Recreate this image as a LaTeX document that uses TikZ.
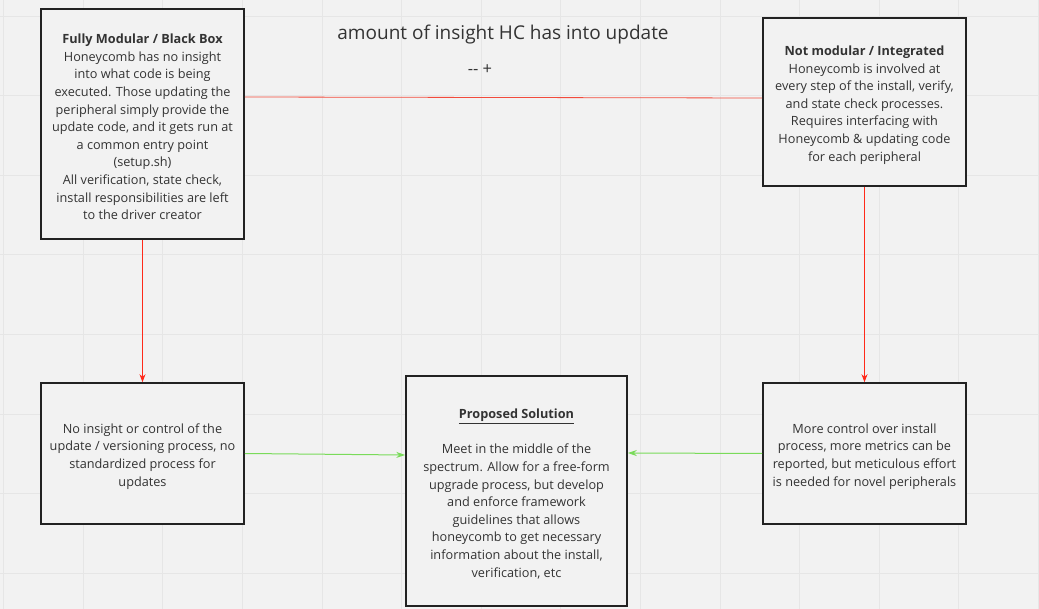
\documentclass[tikz,border=0pt]{standalone}
\usepackage{fontspec}
\setmainfont{Open Sans}
\usetikzlibrary{arrows.meta}
\definecolor{boardbg}{HTML}{F2F2F2}
\definecolor{gridline}{HTML}{E6E6E6}
\definecolor{inktext}{HTML}{333333}
\definecolor{boxline}{HTML}{222222}
\definecolor{linkred}{HTML}{F24B3C}
\definecolor{arrowred}{HTML}{FF2A1A}
\definecolor{linkgreen}{HTML}{7ADB5A}
\newcommand{\cardtop}{\rule{0pt}{15.5pt}}
\tikzset{
  card/.style={draw=boxline, line width=1.6pt, fill=boardbg, align=center,
    text=inktext, font=\fontsize{12.7}{17.6}\selectfont, inner sep=0pt},
  redarrow/.style={draw=arrowred, line width=0.8pt, -{Stealth[length=8pt,width=6pt]}},
  greenarrow/.style={draw=linkgreen, line width=1pt, -{Stealth[length=9pt,width=6pt]}}
}
\begin{document}
\begin{tikzpicture}[x=1pt, y=-1pt]
  % Tafel und Raster
  \fill[boardbg] (0,0) rectangle (1039,609);
  \useasboundingbox (0,0) rectangle (1039,609);
  \foreach \gx in {3.5,83.1,...,1039} \draw[gridline, line width=0.6pt] (\gx,0) -- (\gx,609);
  \foreach \gy in {16,95.6,...,609} \draw[gridline, line width=0.6pt] (0,\gy) -- (1039,\gy);

  % Titel
  \node[text=inktext, font=\fontsize{19}{22}\selectfont] (title) at (503,34.5) {amount of insight HC has into update};
  \node[text=inktext, font=\fontsize{16.5}{18}\selectfont] (scale) at (480,70) {-{}- +};

  % Kasten 1: vollständig modular
  \node[card, minimum width=203pt, minimum height=230pt] (modular) at (142.5,124)
    {\cardtop\textbf{Fully Modular / Black Box}\\Honeycomb has no insight\\into what code is being\\executed. Those updating the\\peripheral simply provide the\\update code, and it gets run at\\a common entry point\\(setup.sh)\\All verification, state check,\\install responsibilities are left\\to the driver creator};

  % Kasten 2: integriert
  \node[card, minimum width=203pt, minimum height=168pt] (integrated) at (864.5,102)
    {\cardtop\textbf{Not modular / Integrated}\\Honeycomb is involved at\\every step of the install, verify,\\and state check processes.\\Requires interfacing with\\Honeycomb \& updating code\\for each peripheral};

  % Kasten 3: keine Einsicht
  \node[card, minimum width=203pt, minimum height=141pt] (noinsight) at (142.5,453.5)
    {\cardtop No insight or control of the\\update / versioning process, no\\standardized process for\\updates};

  % Kasten 4: Lösungsvorschlag
  \node[card, minimum width=221pt, minimum height=230pt] (proposal) at (516.5,491)
    {\cardtop\textbf{\underline{Proposed Solution}}\\[17.6pt]Meet in the middle of the\\spectrum. Allow for a free-form\\upgrade process, but develop\\and enforce framework\\guidelines that allows\\honeycomb to get necessary\\information about the install,\\verification, etc};

  % Kasten 5: mehr Kontrolle
  \node[card, minimum width=203pt, minimum height=141pt] (morecontrol) at (864.5,453.5)
    {\cardtop More control over install\\process, more metrics can be\\reported, but meticulous effort\\is needed for novel peripherals};

  % Verbindungen
  \draw[linkred, line width=0.8pt] ([yshift=27pt]modular.east) -- ([yshift=4pt]integrated.west);
  \draw[redarrow] (modular.south) -- (noinsight.north);
  \draw[redarrow] (integrated.south) -- (morecontrol.north);
  \draw[greenarrow] (noinsight.east) -- ([yshift=36pt]proposal.west);
  \draw[greenarrow] (morecontrol.west) -- ([yshift=38pt]proposal.east);
\end{tikzpicture}
\end{document}
